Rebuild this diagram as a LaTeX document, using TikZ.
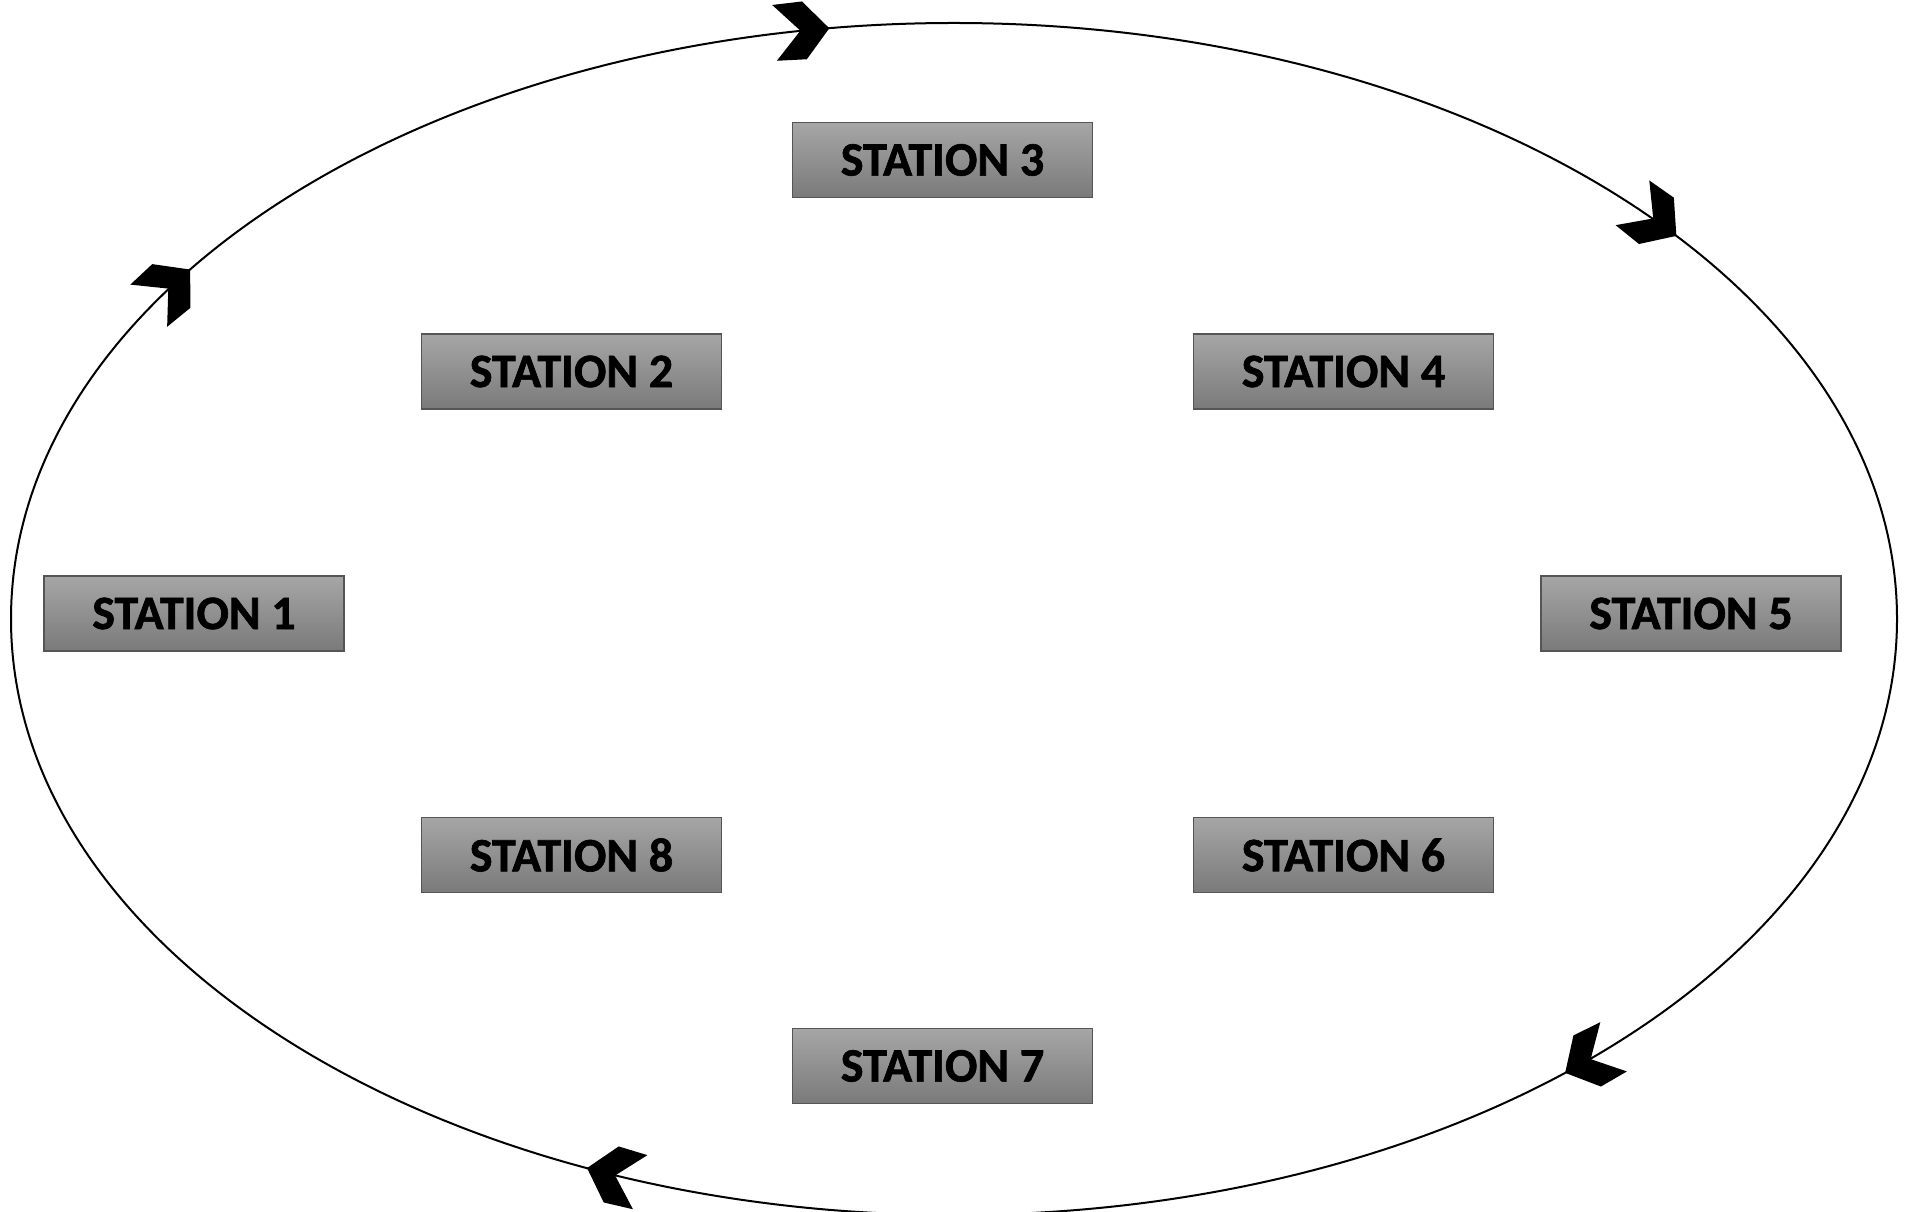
\documentclass[tikz,border=0pt]{standalone}
\usepackage{fontspec}
\setmainfont{Carlito}[BoldFeatures={FakeBold=1.3}]
\definecolor{boxtop}{RGB}{166,166,166}
\definecolor{boxbot}{RGB}{122,122,122}
\definecolor{boxline}{RGB}{85,85,85}
\tikzset{
  station/.style={draw=boxline, line width=1.2pt, minimum width=300pt, minimum height=75pt,
    inner sep=0pt, top color=boxtop, bottom color=boxbot,
    font=\fontsize{48}{56}\selectfont\bfseries},
  loopline/.style={draw=black, line width=2pt},
  chevron/.style={fill=black}
}
\begin{document}
\begin{tikzpicture}[x=1pt,y=1pt]
\useasboundingbox (0,0) rectangle (1907,1211);
\draw[loopline] (954,592) ellipse [x radius=943pt, y radius=596pt];
\foreach \t in {97.6,40,-49.6,-112.9,144.1} {
  \pgfmathsetmacro\px{954+943*cos(\t)}
  \pgfmathsetmacro\py{592+596*sin(\t)}
  \pgfmathsetmacro\ang{atan2(-596*cos(\t), 943*sin(\t))}
  \fill[chevron, shift={(\px,\py)}, rotate=\ang]
    (0,0) -- (-25,29) -- (-55,28) -- (-29,0) -- (-55,-28) -- (-25,-29) -- cycle;
}
\node[station] (s3) at (942.5,1051) {STATION 3};
\node[station] (s2) at (571.5,839.5) {STATION 2};
\node[station] (s4) at (1343.5,839.5) {STATION 4};
\node[station] (s1) at (194,597.5) {STATION 1};
\node[station] (s5) at (1691,597.5) {STATION 5};
\node[station] (s8) at (571.5,356) {STATION 8};
\node[station] (s6) at (1343.5,356) {STATION 6};
\node[station] (s7) at (942.5,145) {STATION 7};
\end{tikzpicture}
\end{document}
